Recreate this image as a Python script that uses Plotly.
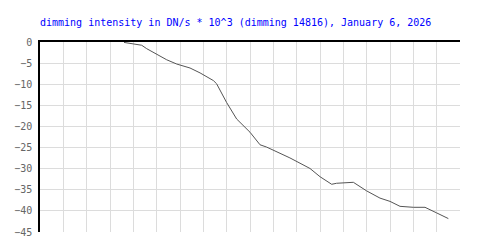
import plotly.graph_objects as go

x_vals = [3.6, 4.07, 4.36, 4.57, 5.0, 5.43, 5.86, 6.43, 6.86, 7.43, 7.57, 8.0, 8.43,
          9.0, 9.43, 9.71, 10.71, 11.57, 12.0, 12.5, 12.71, 13.21, 13.43, 14.0,
          14.57, 15.0, 15.43, 16.0, 16.5, 17.0, 17.5]
y_vals = [-0.1, -0.54, -0.77, -1.57, -2.88, -4.21, -5.22, -6.16, -7.32, -9.13, -9.9,
          -14.35, -18.25, -21.37, -24.34, -24.88, -27.45, -29.95, -31.9, -33.7,
          -33.46, -33.39, -33.23, -35.27, -36.97, -37.75, -38.92, -39.15, -39.15,
          -40.48, -41.82]
y_ticks = [0, -5, -10, -15, -20, -25, -30, -35, -40, -45]
y_tick_text = ["0" if v == 0 else "\u2212" + str(-v) for v in y_ticks]
title_text = "dimming intensity in DN/s * 10^3 (dimming 14816), January 6, 2026"

fig = go.Figure()
fig.add_trace(go.Scatter(x=x_vals, y=y_vals, mode="lines",
                         line=dict(color="#555555", width=1), hoverinfo="skip"))

fig.update_layout(
    width=500, height=250,
    margin=dict(l=40, r=40, t=42, b=16, pad=0),
    paper_bgcolor="white", plot_bgcolor="white",
    showlegend=False,
    title=dict(text=title_text, x=40/500, xref="container", xanchor="left",
               y=1-22/250, yref="container", yanchor="middle",
               font=dict(family="DejaVu Sans Mono", size=10, color="#0000ff")),
    xaxis=dict(range=[0, 18], dtick=1, tick0=0, side="top", showticklabels=False,
               showgrid=True, gridcolor="#dcdcdc", gridwidth=1, zeroline=False,
               showline=True, linecolor="black", linewidth=1.5, ticks=""),
    yaxis=dict(range=[-45, 0], tickvals=y_ticks, ticktext=y_tick_text,
               showgrid=True, gridcolor="#dcdcdc", gridwidth=1, zeroline=False,
               showline=True, linecolor="black", linewidth=1.5, ticks="outside",
               ticklen=4, tickcolor="white",
               tickfont=dict(family="DejaVu Sans Mono", size=10, color="#666666")),
)
fig.write_html("out.html")
